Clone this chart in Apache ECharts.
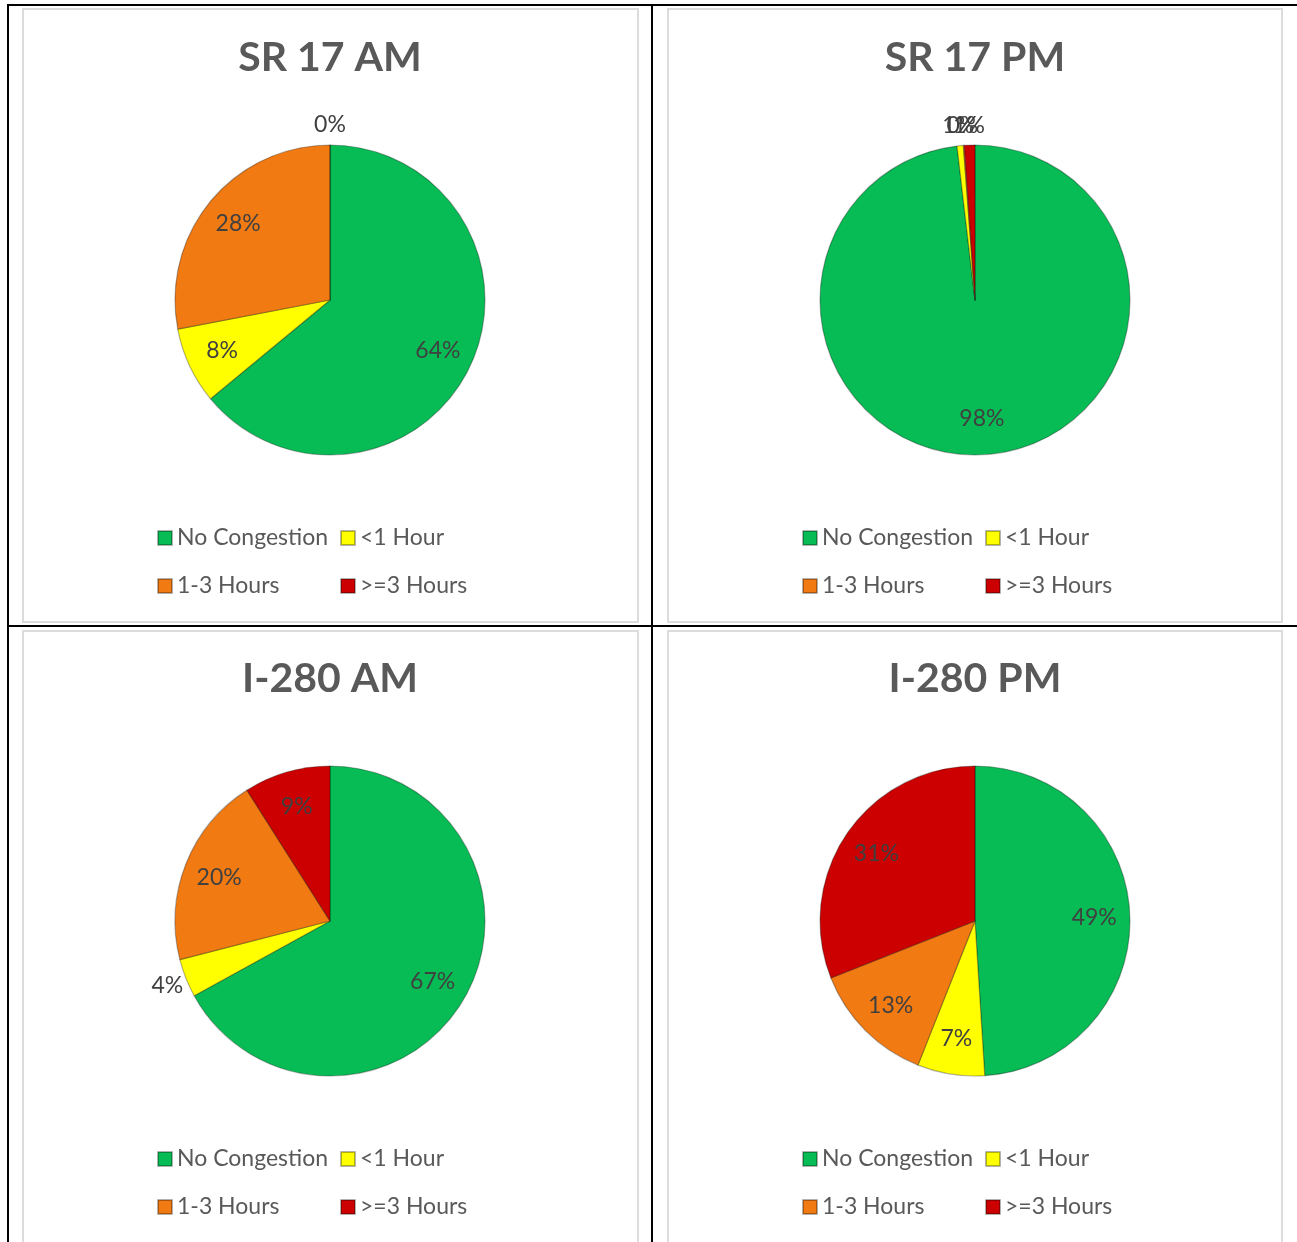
<!DOCTYPE html>
<html>
<head>
<meta charset="utf-8">
<title>Congestion duration</title>
<script src="https://cdn.jsdelivr.net/npm/echarts@6/dist/echarts.min.js"></script>
<style>
    html, body { margin: 0; padding: 0; background: #fff; }
    #page { position: relative; width: 1297px; height: 1242px; overflow: hidden; }
    .ln { position: absolute; background: #000; }
    .frame { position: absolute; border: 2px solid #dcdcdc; box-sizing: border-box; }
    #chart { position: absolute; left: 0; top: 0; width: 1297px; height: 1242px; }
</style>
</head>
<body>
<div id="page">
    <div class="frame" style="left:22px;top:8px;width:617px;height:615px"></div>
    <div class="frame" style="left:667px;top:8px;width:616px;height:615px"></div>
    <div class="frame" style="left:22px;top:630px;width:617px;height:640px"></div>
    <div class="frame" style="left:667px;top:630px;width:616px;height:640px"></div>
    <div class="ln" style="left:7px;top:4px;width:1290px;height:2px"></div>
    <div class="ln" style="left:7px;top:625px;width:1290px;height:2px"></div>
    <div class="ln" style="left:7px;top:4px;width:2px;height:1238px"></div>
    <div class="ln" style="left:651px;top:4px;width:2px;height:1238px"></div>
    <div id="chart"></div>
</div>
<script>
    // 图例类别与颜色
    var categories = ['No Congestion', '<1 Hour', '1-3 Hours', '>=3 Hours'];
    var colors = ['#07BC55', '#FFFF00', '#F27A12', '#CC0000'];
    var chartTitles = ['SR 17 AM', 'SR 17 PM', 'I-280 AM', 'I-280 PM'];

    // 各图百分比
    var sr17Am = [64, 8, 28, 0];
    var sr17Pm = [98.15, 0.65, 0.1, 1.1];
    var i280Am = [67, 4, 20, 9];
    var i280Pm = [49, 7, 13, 31];
    var chartValues = [sr17Am, sr17Pm, i280Am, i280Pm];

    // 标签放在饼外的类别
    var outsideLabels = [['>=3 Hours'], ['<1 Hour', '1-3 Hours', '>=3 Hours'], ['<1 Hour'], []];

    var RADIUS = 155;
    var COL_X = [330, 975];
    var ROW_Y = [0, 621];

    var series = [], titles = [], legends = [];

    function buildData(values, filter) {
        var list = [];
        for (var i = 0; i < categories.length; i++) {
            var item = {name: categories[i], value: values[i]};
            if (filter) item.label = {show: filter(categories[i])};
            list.push(item);
        }
        return list;
    }

    for (var c = 0; c < 4; c++) {
        var cx = COL_X[c % 2];
        var dy = ROW_Y[Math.floor(c / 2)];
        var outs = outsideLabels[c];
        var center = [cx, 300 + dy];

        titles.push({
            text: chartTitles[c],
            left: cx,
            top: 37 + dy,
            textAlign: 'center',
            padding: 0,
            textStyle: {fontFamily: 'Lato', fontSize: 41, fontWeight: 'bold', color: '#595959'}
        });

        // 饼图本体
        series.push({
            name: chartTitles[c],
            type: 'pie',
            center: center,
            radius: [0, RADIUS],
            startAngle: 90,
            clockwise: true,
            avoidLabelOverlap: false,
            label: {show: false},
            labelLine: {show: false},
            itemStyle: {borderColor: 'rgba(0,0,0,0.3)', borderWidth: 1.2},
            emphasis: {disabled: true},
            data: buildData(chartValues[c])
        });

        // 标签环：内部约0.75半径，外部在饼边外
        (function (outs, center, values) {
            var labelRing = function (inner, outer, keep) {
                return {
                    type: 'pie',
                    silent: true,
                    center: center,
                    radius: [inner, outer],
                    startAngle: 90,
                    clockwise: true,
                    avoidLabelOverlap: false,
                    labelLayout: {hideOverlap: false},
                    itemStyle: {color: 'rgba(0,0,0,0)'},
                    labelLine: {show: false},
                    emphasis: {disabled: true},
                    label: {
                        position: 'inside',
                        fontFamily: 'Lato',
                        fontSize: 23,
                        color: '#404040',
                        formatter: function (p) { return Math.round(p.value) + '%'; }
                    },
                    data: buildData(values, keep)
                };
            };
            series.push(labelRing(RADIUS * 0.5, RADIUS, function (n) { return outs.indexOf(n) < 0; }));
            series.push(labelRing(RADIUS, RADIUS + 34, function (n) { return outs.indexOf(n) >= 0; }));
        })(outs, center, chartValues[c]);

        var legendBase = {
            orient: 'vertical',
            top: 525 + dy,
            padding: 0,
            itemWidth: 14,
            itemHeight: 14,
            itemGap: 22,
            icon: 'rect',
            selectedMode: false,
            textStyle: {fontFamily: 'Lato', fontSize: 23, color: '#595959', lineHeight: 26}
        };
        legends.push(echarts.util.extend({left: cx - 173, data: [categories[0], categories[2]]}, legendBase));
        legends.push(echarts.util.extend({left: cx + 10, data: [categories[1], categories[3]]}, legendBase));
    }

    var chart = echarts.init(document.getElementById('chart'));
    chart.setOption({
        color: colors,
        animation: false,
        title: titles,
        legend: legends,
        series: series
    });
</script>
</body>
</html>
